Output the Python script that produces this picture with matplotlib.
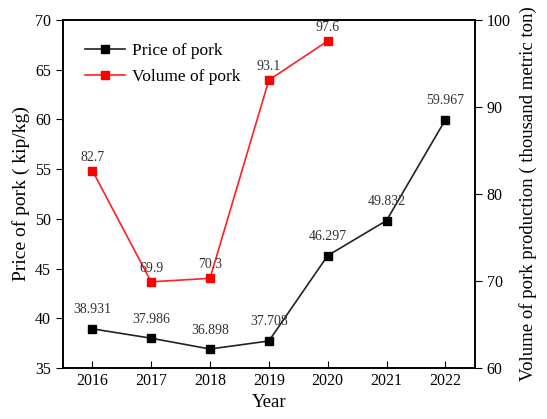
import matplotlib
matplotlib.use("Agg")
import matplotlib.pyplot as plt

years = [2016, 2017, 2018, 2019, 2020, 2021, 2022]
price = [38.931, 37.986, 36.898, 37.708, 46.297, 49.832, 59.967]
vol_years = [2016, 2017, 2018, 2019, 2020]
volume = [82.7, 69.9, 70.3, 93.1, 97.6]
price_labels = ["38.931", "37.986", "36.898", "37.708", "46.297", "49.832", "59.967"]
vol_labels = ["82.7", "69.9", "70.3", "93.1", "97.6"]

plt.rcParams['font.family'] = ['Liberation Serif', 'DejaVu Serif']

fig = plt.figure(figsize=(5.47, 4.19), dpi=100)
ax = fig.add_axes([0.115, 0.122, 0.753, 0.83])
ax2 = ax.twinx()

l1, = ax.plot(years, price, color='#222222', lw=1.2, marker='s', ms=6,
              markerfacecolor='black', markeredgecolor='black', label='Price of pork')
l2, = ax2.plot(vol_years, volume, color='#ff2020', lw=1.2, marker='s', ms=6,
               markerfacecolor='#ff0000', markeredgecolor='#ff0000', label='Volume of pork')

for x, y, t in zip(years, price, price_labels):
    ax.annotate(t, (x, y), xytext=(0, 9), textcoords='offset points', ha='center',
                va='bottom', fontsize=10, color='#333333')
for x, y, t in zip(vol_years, volume, vol_labels):
    ax2.annotate(t, (x, y), xytext=(0, 5), textcoords='offset points', ha='center',
                 va='bottom', fontsize=10, color='#333333')

ax.set_xlim(2015.5, 2022.5)
ax.set_ylim(35, 70)
ax2.set_ylim(60, 100)
ax.set_xticks(years)
ax.set_yticks([35, 40, 45, 50, 55, 60, 65, 70])
ax2.set_yticks([60, 70, 80, 90, 100])

ax.tick_params(axis='x', direction='in', labelsize=11.5, length=5)
ax.tick_params(axis='y', direction='out', labelsize=11.5, length=5)
ax2.tick_params(axis='y', direction='out', labelsize=11.5, length=5)

ax.set_xlabel('Year', fontsize=13.5)
ax.set_ylabel('Price of pork ( kip/kg)', fontsize=14)
ax2.set_ylabel('Volume of pork production ( thousand metric ton)', fontsize=13.5,
               labelpad=6)

for a in (ax, ax2):
    for s in a.spines.values():
        s.set_linewidth(1.2)

ax.legend(handles=[l1, l2], loc='upper left', frameon=False, fontsize=12.5,
          handlelength=2.3, borderaxespad=0.7, borderpad=0.6, labelspacing=0.6,
          handletextpad=0.4)

fig.savefig('out.png', dpi=100)
